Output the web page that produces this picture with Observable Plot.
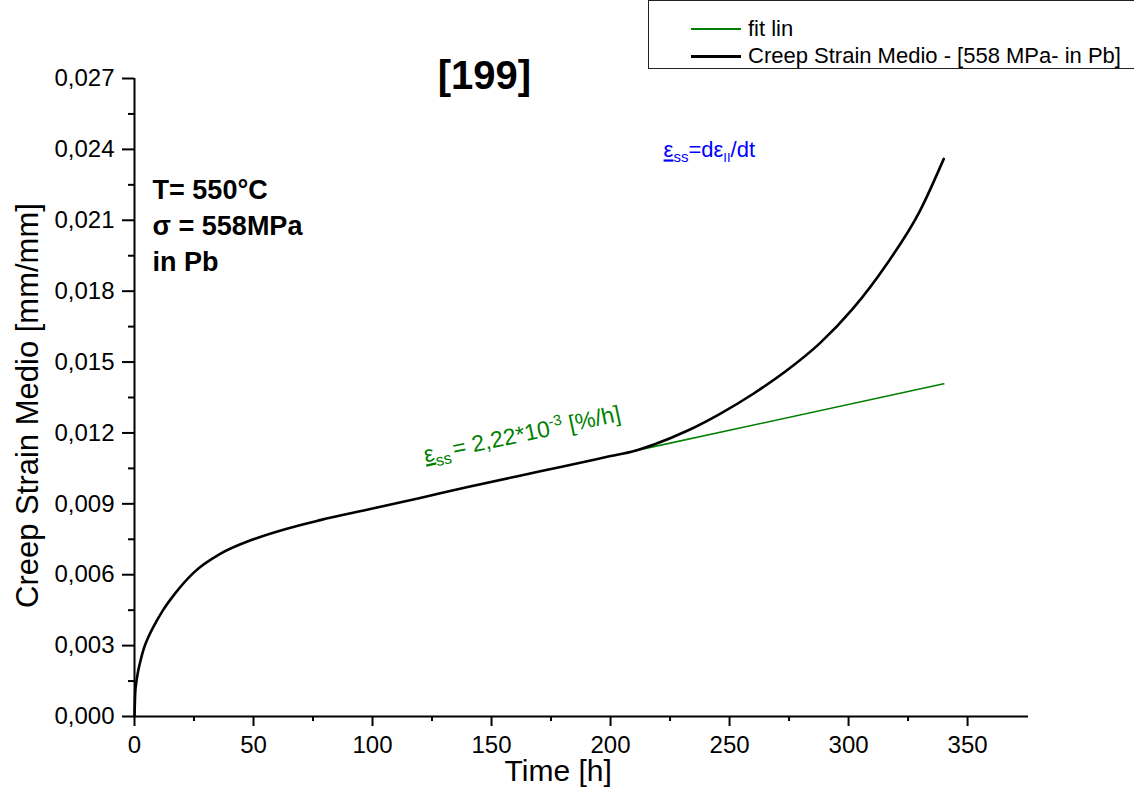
<!DOCTYPE html>
<html><head><meta charset="utf-8">
<script src="https://cdn.jsdelivr.net/npm/d3@7"></script>
<script src="https://cdn.jsdelivr.net/npm/@observablehq/plot@0.6"></script>
<style>
html,body{margin:0;padding:0;background:#fff;overflow:hidden}
#wrap{position:relative;width:1134px;height:790px}
#legend{position:absolute;left:648px;top:0;width:520px;height:67px;border:1px solid #222;background:#fff;font-family:"Liberation Sans",Arial,sans-serif;font-size:22px;color:#000}
.row{position:absolute;left:0;display:flex;align-items:center;height:26px;white-space:nowrap}
.sw{display:inline-block;width:50px;margin-left:42px;margin-right:7px}
</style></head><body><div id="wrap"><div id="legend"></div></div>
<script>
// ---- data ----
const timeH = [0, 0.3, 0.7, 1.5, 2.5, 4, 6, 8, 12, 17, 25, 36, 50, 64, 78, 100, 120, 140, 160, 180, 200, 210, 218, 232, 246, 260, 274, 288, 302, 316, 330, 340];
const strainMedio = [0, 0.0010, 0.0014, 0.0019, 0.00235, 0.0029, 0.0034, 0.0038, 0.0045, 0.0052, 0.0061, 0.00688, 0.00750, 0.00795, 0.00831, 0.00880, 0.00925, 0.00971, 0.01015, 0.01058, 0.01102, 0.01124, 0.01150, 0.01208, 0.01281, 0.01366, 0.01464, 0.01580, 0.01728, 0.01914, 0.02140, 0.0236];
const fitTime = [210, 340];
const fitStrain = [0.01124, 0.01408];
const xTicks = [0, 50, 100, 150, 200, 250, 300, 350];
const xMinorTicks = [25, 75, 125, 175, 225, 275, 325];
const yTicks = [0, 0.003, 0.006, 0.009, 0.012, 0.015, 0.018, 0.021, 0.024, 0.027];
const yMinorTicks = [0.0015, 0.0045, 0.0075, 0.0105, 0.0135, 0.0165, 0.0195, 0.0225, 0.0255];
const legendLabels = ["fit lin", "Creep Strain Medio - [558 MPa- in Pb]"];
const legendColors = ["#008000", "#000000"];
const titleText = "[199]";
const conditionsText = "T= 550°C\nσ = 558MPa\nin Pb";
const xLabel = "Time [h]";
const yLabel = "Creep Strain Medio [mm/mm]";

const creep = timeH.map((t, i) => ({t, s: strainMedio[i]}));
const fit = fitTime.map((t, i) => ({t, s: fitStrain[i]}));
const fmtY = d => d.toFixed(3).replace(".", ",");

const FONT = '"Liberation Sans", Arial, sans-serif';
const GREEN = "#008000";
const BLUE = "#0000ff";

const plot = Plot.plot({
  width: 1134,
  height: 790,
  marginLeft: 134,
  marginRight: 106,
  marginTop: 78,
  marginBottom: 74,
  style: {fontFamily: FONT, fontSize: "24px", background: "#fff", color: "#000", overflow: "visible"},
  x: {domain: [0, 375.6], label: null},
  y: {domain: [0, 0.027], label: null},
  marks: [
    // minor ticks
    Plot.axisX({ticks: xMinorTicks, tickSize: 5, strokeWidth: 2, tickFormat: () => "", label: null}),
    Plot.axisY({ticks: yMinorTicks, tickSize: 6, strokeWidth: 2, tickFormat: () => "", label: null}),
    // major ticks
    Plot.axisX({ticks: xTicks, tickSize: 10, tickPadding: 9, strokeWidth: 2, tickFormat: d => String(d), label: null, fontSize: 24}),
    Plot.axisY({ticks: yTicks, tickSize: 12, tickPadding: 8, strokeWidth: 2, tickFormat: fmtY, label: null, fontSize: 24}),
    Plot.ruleY([0], {strokeWidth: 2}),
    Plot.ruleX([0], {strokeWidth: 2}),
    // series
    Plot.line(fit, {x: "t", y: "s", stroke: GREEN, strokeWidth: 1.6}),
    Plot.line(creep, {x: "t", y: "s", stroke: "#000", strokeWidth: 2.6, curve: "monotone-x"}),
    // axis titles
    Plot.text([{x: 178, label: xLabel}], {x: "x", text: "label", frameAnchor: "bottom", dy: 64, fontSize: 30, lineAnchor: "bottom"}),
    Plot.text([{y: 0.01316, label: yLabel}], {y: "y", text: "label", frameAnchor: "left", dx: -106, rotate: -90, fontSize: 31, lineAnchor: "middle", textAnchor: "middle"}),
    // title
    Plot.text([{x: 147, y: 0.02655, label: titleText}], {x: "x", y: "y", text: "label", fontSize: 40, fontWeight: "bold", lineAnchor: "bottom", textAnchor: "middle"}),
    // condition annotation
    Plot.text([{x: 7.6, y: 0.02298, label: conditionsText}], {x: "x", y: "y", text: "label", fontSize: 27, fontWeight: "bold", lineAnchor: "top", textAnchor: "start", lineHeight: 1.33}),
    // rich annotations (tspans added after render)
    Plot.text([{x: 122.3, y: 0.01075, label: "RICH_FIT"}], {x: "x", y: "y", text: "label", fill: GREEN, fontSize: 23, rotate: -12, lineAnchor: "bottom", textAnchor: "start"}),
    Plot.text([{x: 222.3, y: 0.02366, label: "RICH_DEF"}], {x: "x", y: "y", text: "label", fill: BLUE, fontSize: 22, lineAnchor: "bottom", textAnchor: "start"})
  ]
});

const NS = "http://www.w3.org/2000/svg";
function rich(el, parts) {
  el.textContent = "";
  for (const p of parts) {
    const ts = document.createElementNS(NS, "tspan");
    ts.textContent = p.t;
    if (p.fs) ts.setAttribute("font-size", p.fs);
    if (p.dy) ts.setAttribute("dy", p.dy);
    if (p.dx) ts.setAttribute("dx", p.dx);
    if (p.u) ts.setAttribute("text-decoration", "underline");
    el.appendChild(ts);
  }
}
plot.querySelectorAll("text").forEach(el => {
  if (el.textContent === "RICH_FIT") {
    rich(el, [
      {t: "ε", u: true},
      {t: "ss", fs: 16, dy: 6},
      {t: "= 2,22*10", fs: 23, dy: -6, dx: 3},
      {t: "-3", fs: 15, dy: -9},
      {t: " [%/h]", fs: 23, dy: 9}
    ]);
  } else if (el.textContent === "RICH_DEF") {
    rich(el, [
      {t: "ε", u: true},
      {t: "ss", fs: 15, dy: 5},
      {t: "=dε", fs: 22, dy: -5},
      {t: "II", fs: 13, dy: 5},
      {t: "/dt", fs: 22, dy: -5}
    ]);
  }
});

const wrap = document.getElementById("wrap");
wrap.insertBefore(plot, wrap.firstChild);

const legend = document.getElementById("legend");
const rowTops = [15, 42];
legendLabels.forEach((lab, i) => {
  const row = document.createElement("div");
  row.className = "row";
  row.style.top = rowTops[i] + "px";
  const sw = document.createElement("span");
  sw.className = "sw";
  sw.style.borderTop = (i === 0 ? 2 : 3) + "px solid " + legendColors[i];
  const tx = document.createElement("span");
  tx.textContent = lab;
  row.appendChild(sw);
  row.appendChild(tx);
  legend.appendChild(row);
});
</script>
</body></html>
